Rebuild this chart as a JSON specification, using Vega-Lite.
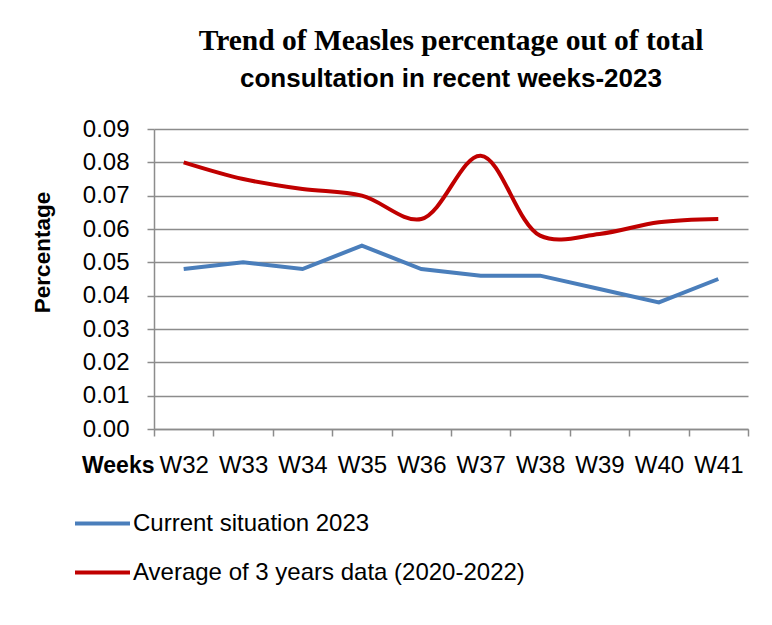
{
  "$schema": "https://vega.github.io/schema/vega-lite/v6.json",
  "width": 594,
  "height": 300,
  "autosize": "none",
  "padding": {"left": 154, "top": 129, "right": 24, "bottom": 196},
  "background": "white",
  "title": {
    "text": "Trend of Measles percentage out of total",
    "subtitle": "consultation in recent weeks-2023",
    "anchor": "middle",
    "font": "Liberation Serif",
    "fontSize": 29.5,
    "fontWeight": "bold",
    "color": "black",
    "subtitleFont": "Liberation Sans",
    "subtitleFontSize": 26,
    "subtitleFontWeight": "bold",
    "subtitleColor": "black",
    "subtitlePadding": 10,
    "offset": 24
  },
  "data": {
    "values": [
      {"week": "W32", "series": "Current situation 2023", "value": 0.048},
      {"week": "W33", "series": "Current situation 2023", "value": 0.050},
      {"week": "W34", "series": "Current situation 2023", "value": 0.048},
      {"week": "W35", "series": "Current situation 2023", "value": 0.055},
      {"week": "W36", "series": "Current situation 2023", "value": 0.048},
      {"week": "W37", "series": "Current situation 2023", "value": 0.046},
      {"week": "W38", "series": "Current situation 2023", "value": 0.046},
      {"week": "W39", "series": "Current situation 2023", "value": 0.042},
      {"week": "W40", "series": "Current situation 2023", "value": 0.038},
      {"week": "W41", "series": "Current situation 2023", "value": 0.045},
      {"week": "W32", "series": "Average of 3 years data (2020-2022)", "value": 0.080},
      {"week": "W33", "series": "Average of 3 years data (2020-2022)", "value": 0.075},
      {"week": "W34", "series": "Average of 3 years data (2020-2022)", "value": 0.072},
      {"week": "W35", "series": "Average of 3 years data (2020-2022)", "value": 0.070},
      {"week": "W36", "series": "Average of 3 years data (2020-2022)", "value": 0.063},
      {"week": "W37", "series": "Average of 3 years data (2020-2022)", "value": 0.082},
      {"week": "W38", "series": "Average of 3 years data (2020-2022)", "value": 0.058},
      {"week": "W39", "series": "Average of 3 years data (2020-2022)", "value": 0.0585},
      {"week": "W40", "series": "Average of 3 years data (2020-2022)", "value": 0.062},
      {"week": "W41", "series": "Average of 3 years data (2020-2022)", "value": 0.063}
    ]
  },
  "encoding": {
    "x": {
      "field": "week",
      "type": "ordinal",
      "sort": null,
      "scale": {"paddingInner": 0, "paddingOuter": 0},
      "axis": {
        "title": "Weeks",
        "titleFont": "Liberation Sans",
        "titleFontSize": 23,
        "titleFontWeight": "bold",
        "titleColor": "black",
        "titleAlign": "right",
        "titleAnchor": "start",
        "titleBaseline": "alphabetic",
        "titleX": 0,
        "titleY": 43,
        "labelAngle": 0,
        "labelFont": "Liberation Sans",
        "labelFontSize": 24,
        "labelColor": "black",
        "labelPadding": 17,
        "tickBand": "extent",
        "tickSize": 7,
        "tickColor": "#8c8c8c",
        "tickWidth": 1.5,
        "domainColor": "#8c8c8c",
        "domainWidth": 1.5,
        "grid": false
      }
    },
    "y": {
      "field": "value",
      "type": "quantitative",
      "scale": {"domain": [0, 0.09], "nice": false},
      "axis": {
        "title": "Percentage",
        "titleFont": "Liberation Sans",
        "titleFontSize": 22.5,
        "titleFontWeight": "bold",
        "titleColor": "black",
        "titlePadding": 28,
        "titleY": 123,
        "values": [0, 0.01, 0.02, 0.03, 0.04, 0.05, 0.06, 0.07, 0.08, 0.09],
        "format": ".2f",
        "labelFont": "Liberation Sans",
        "labelFontSize": 24,
        "labelColor": "black",
        "labelPadding": 18,
        "tickSize": 7,
        "tickColor": "#8c8c8c",
        "tickWidth": 1.5,
        "domainColor": "#8c8c8c",
        "domainWidth": 1.5,
        "grid": true,
        "gridColor": "#8c8c8c",
        "gridWidth": 1.5
      }
    },
    "color": {
      "field": "series",
      "type": "nominal",
      "scale": {
        "domain": ["Current situation 2023", "Average of 3 years data (2020-2022)"],
        "range": ["#4a7ebb", "#c00000"]
      },
      "legend": {
        "title": null,
        "orient": "none",
        "legendX": -81,
        "legendY": 365,
        "direction": "vertical",
        "symbolType": "stroke",
        "symbolSize": 3025,
        "symbolStrokeWidth": 4,
        "labelFont": "Liberation Sans",
        "labelFontSize": 24,
        "labelColor": "black",
        "labelOffset": 1,
        "labelLimit": 0,
        "rowPadding": 7
      }
    }
  },
  "layer": [
    {
      "transform": [{"filter": "datum.series === 'Current situation 2023'"}],
      "mark": {"type": "line", "strokeWidth": 4, "interpolate": "linear"}
    },
    {
      "transform": [{"filter": "datum.series !== 'Current situation 2023'"}],
      "mark": {"type": "line", "strokeWidth": 4, "interpolate": "catmull-rom"}
    }
  ],
  "config": {"view": {"stroke": null}}
}
